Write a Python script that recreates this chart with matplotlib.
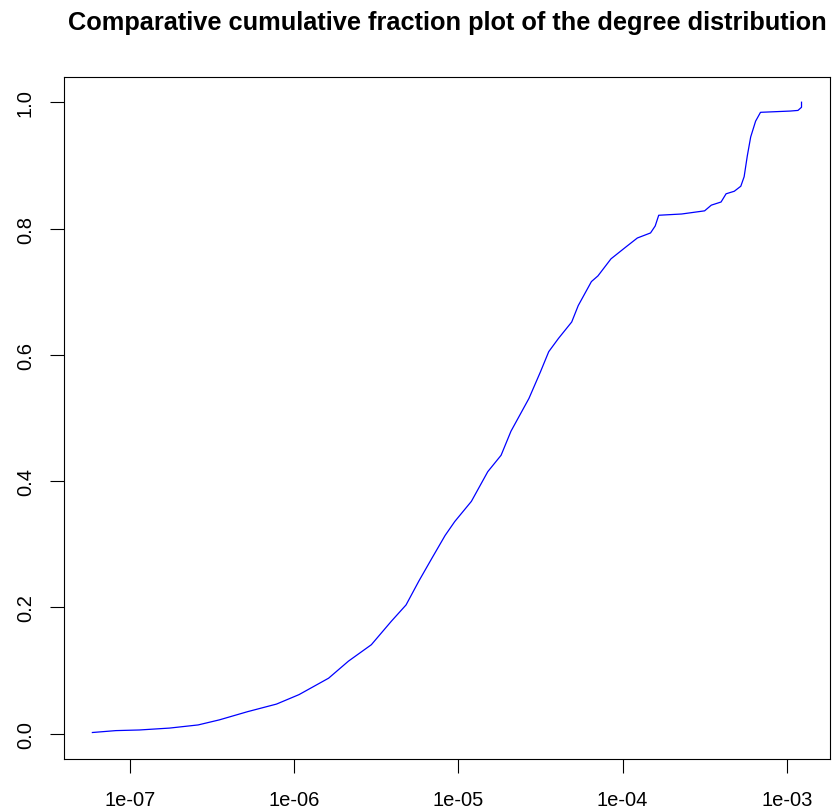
import numpy as np
import matplotlib
matplotlib.use('Agg')
import matplotlib.pyplot as plt
from matplotlib.ticker import FuncFormatter, FixedLocator, NullLocator

plt.rcParams['font.family'] = ['Liberation Sans', 'DejaVu Sans']

# valeurs (fraction cumulee vs degre normalise)
degree = [5.9e-8, 8.2e-8, 1.14e-7, 1.74e-7, 2.6e-7, 3.5e-7, 5.2e-7, 7.8e-7,
          1.07e-6, 1.62e-6, 2.14e-6, 2.95e-6, 3.9e-6, 4.8e-6, 5.75e-6, 6.9e-6,
          8.3e-6, 9.5e-6, 1.2e-5, 1.51e-5, 1.82e-5, 2.09e-5, 2.69e-5, 3.16e-5,
          3.55e-5, 4.07e-5, 4.9e-5, 5.37e-5, 6.46e-5, 7.08e-5, 8.5e-5, 1.05e-4,
          1.23e-4, 1.48e-4, 1.58e-4, 1.66e-4, 2.29e-4, 3.16e-4, 3.47e-4, 3.98e-4,
          4.27e-4, 4.79e-4, 5.25e-4, 5.5e-4, 5.75e-4, 6.03e-4, 6.46e-4, 6.92e-4,
          1.05e-3, 1.17e-3, 1.23e-3, 1.23e-3]
cum_frac = [0.002, 0.005, 0.006, 0.009, 0.014, 0.022, 0.035, 0.047,
            0.062, 0.088, 0.115, 0.141, 0.178, 0.204, 0.242, 0.278,
            0.314, 0.336, 0.368, 0.415, 0.441, 0.479, 0.531, 0.573,
            0.605, 0.626, 0.652, 0.678, 0.716, 0.725, 0.752, 0.771,
            0.785, 0.793, 0.804, 0.821, 0.823, 0.828, 0.837, 0.842,
            0.855, 0.859, 0.867, 0.882, 0.915, 0.945, 0.970, 0.984,
            0.986, 0.987, 0.992, 1.0]
x_ticks = [1e-7, 1e-6, 1e-5, 1e-4, 1e-3]
y_ticks = [0.0, 0.2, 0.4, 0.6, 0.8, 1.0]

fig = plt.figure(figsize=(8.37, 8.12), dpi=100)
ax = fig.add_axes([0.0765, 0.064, 0.915, 0.84])

ax.plot(degree, cum_frac, color='#0000ff', lw=0.9)
ax.set_xscale('log')

# limites a la R (+4%)
lx = np.log10([min(degree), max(degree)])
dx = 0.04 * (lx[1] - lx[0])
ax.set_xlim(10**(lx[0] - dx), 10**(lx[1] + dx))
ax.set_ylim(-0.04, 1.04)

ax.xaxis.set_major_locator(FixedLocator(x_ticks))
ax.xaxis.set_minor_locator(NullLocator())
ax.xaxis.set_major_formatter(FuncFormatter(lambda v, p: '%.0e' % v))
ax.set_yticks(y_ticks)
ax.yaxis.set_major_formatter(FuncFormatter(lambda v, p: '%.1f' % v))

ax.tick_params(direction='out', length=10, width=0.8, labelsize=14.5, colors='black')
ax.tick_params(axis='x', pad=12)
ax.tick_params(axis='y', pad=11)
for lab in ax.get_yticklabels():
    lab.set_rotation(90)
    lab.set_va('center')
for s in ax.spines.values():
    s.set_linewidth(0.8)

fig.text(0.535, 0.972, 'Comparative cumulative fraction plot of the degree distribution',
         ha='center', va='center', fontsize=18.3, fontweight='bold')

fig.savefig('out.png', dpi=100)
